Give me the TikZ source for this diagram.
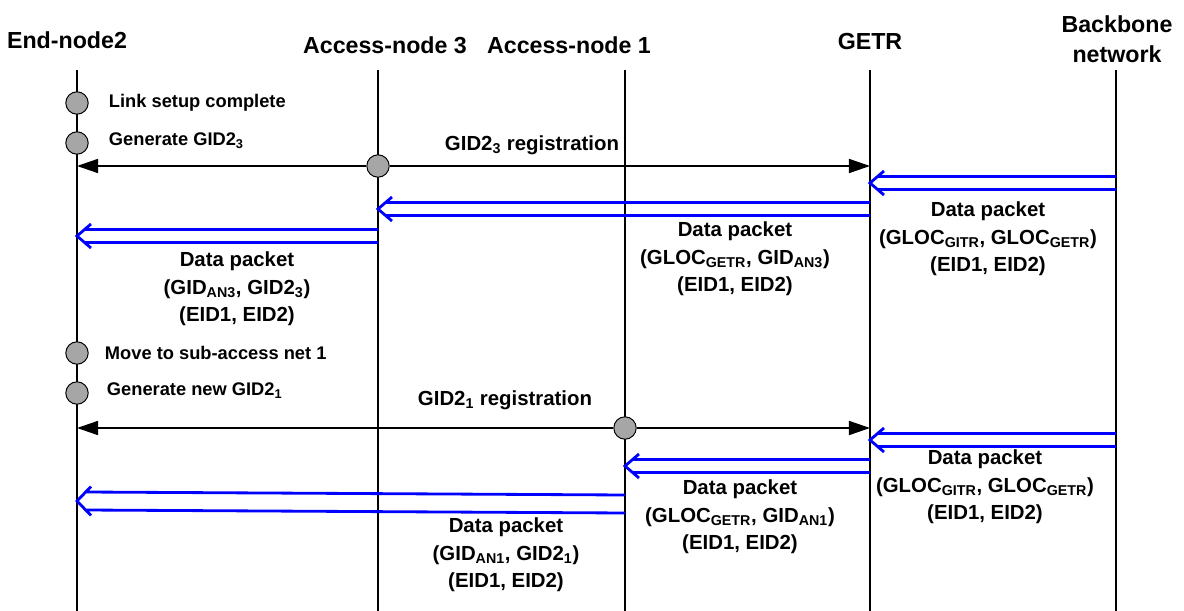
\documentclass[tikz,border=0pt]{standalone}
\usepackage{fontspec}
\setmainfont{Liberation Sans}
\usetikzlibrary{arrows.meta,calc}

\tikzset{
  lifeline/.style={line width=1.4pt},
  regmsg/.style={line width=1.1pt, -{Triangle[length=15pt,width=10pt]}},
  event/.style={circle, draw, line width=0.7pt, fill=black!35, minimum size=0.56cm, inner sep=0pt},
  head/.style={font=\bfseries\fontsize{16.5}{21}\selectfont, align=center},
  evlabel/.style={anchor=west, font=\bfseries\fontsize{13}{16}\selectfont},
  msglabel/.style={font=\bfseries\fontsize{14.5}{19.4}\selectfont, align=center},
  datamsg/.style={blue, line width=2pt, line join=miter,
    to path={($(\tikztostart)+(0,-#1)$) -- ($(\tikztotarget)+({14*#1/(#1+5.5)},-#1)$)
             ($(\tikztostart)+(0,#1)$) -- ($(\tikztotarget)+({14*#1/(#1+5.5)},#1)$)
             ($(\tikztotarget)+(14,{-(#1+5.5)})$) -- (\tikztotarget) -- ($(\tikztotarget)+(14,{#1+5.5})$)}},
  datamsg/.default=6.5
}

\begin{document}
\begin{tikzpicture}[x=0.025cm,y=-0.025cm]
\useasboundingbox (0,0) rectangle (1184,611);

%entetes
\node[head] (hen) at (67,40) {End-node2};
\node[head] (han3) at (385,45) {Access-node 3};
\node[head] (han1) at (569,45) {Access-node 1};
\node[head] (hgetr) at (870,42) {GETR};
\node[head] (hbb) at (1117,39) {Backbone\\network};
%fin

%lignes de vie
\coordinate (en) at (77,70);
\coordinate (an3) at (378,70);
\coordinate (an1) at (625,70);
\coordinate (getr) at (870,70);
\coordinate (bb) at (1116,70);
\foreach \l in {en,an3,an1,getr,bb}
  \draw[lifeline] (\l) -- (\l |- 0,611);
%fin

%evenements
\node[event] (ev1) at (77,103) {};
\node[evlabel] (lev1) at (104,103) {Link setup complete};
\node[event] (ev2) at (77,143) {};
\node[evlabel] (lev2) at (104,141) {Generate GID2\textsubscript{3}};
\node[event] (ev3) at (77,353) {};
\node[evlabel] (lev3) at (100,353) {Move to sub-access net 1};
\node[event] (ev4) at (77,393) {};
\node[evlabel] (lev4) at (102,391) {Generate new GID2\textsubscript{1}};
%fin

%enregistrement GID2_3
\node[event] (reg3) at (378,166) {};
\draw[regmsg] (reg3) -- (en |- reg3);
\draw[regmsg] (reg3) -- (getr |- reg3);
\node[msglabel] (lreg3) at (532,145) {GID2\textsubscript{3} registration};
%fin

%paquets vers AN3
\coordinate (d1a) at (1116,183);
\coordinate (d1b) at (870,183);
\coordinate (d2a) at (870,209);
\coordinate (d2b) at (378,209);
\coordinate (d3a) at (378,236);
\coordinate (d3b) at (77,236);
\draw[datamsg] (d1a) to (d1b);
\draw[datamsg] (d2a) to (d2b);
\draw[datamsg] (d3a) to (d3b);
\node[msglabel] (ld1) at (988,239) {Data packet\\(GLOC\textsubscript{GITR}, GLOC\textsubscript{GETR})\\(EID1, EID2)};
\node[msglabel] (ld2) at (735,259) {Data packet\\(GLOC\textsubscript{GETR}, GID\textsubscript{AN3})\\(EID1, EID2)};
\node[msglabel] (ld3) at (237,289) {Data packet\\(GID\textsubscript{AN3}, GID2\textsubscript{3})\\(EID1, EID2)};
%fin

%enregistrement GID2_1
\node[event] (reg1) at (625,428) {};
\draw[regmsg] (reg1) -- (en |- reg1);
\draw[regmsg] (reg1) -- (getr |- reg1);
\node[msglabel] (lreg1) at (505,400) {GID2\textsubscript{1} registration};
%fin

%paquets vers AN1
\coordinate (d4a) at (1116,440);
\coordinate (d4b) at (870,440);
\coordinate (d5a) at (870,466);
\coordinate (d5b) at (625,466);
\coordinate (d6a) at (625,504);
\coordinate (d6b) at (77,501);
\draw[datamsg] (d4a) to (d4b);
\draw[datamsg] (d5a) to (d5b);
\draw[datamsg=9] (d6a) to (d6b);
\node[msglabel] (ld4) at (985,487) {Data packet\\(GLOC\textsubscript{GITR}, GLOC\textsubscript{GETR})\\(EID1, EID2)};
\node[msglabel] (ld5) at (740,517) {Data packet\\(GLOC\textsubscript{GETR}, GID\textsubscript{AN1})\\(EID1, EID2)};
\node[msglabel] (ld6) at (506,555) {Data packet\\(GID\textsubscript{AN1}, GID2\textsubscript{1})\\(EID1, EID2)};
%fin
\end{tikzpicture}
\end{document}
